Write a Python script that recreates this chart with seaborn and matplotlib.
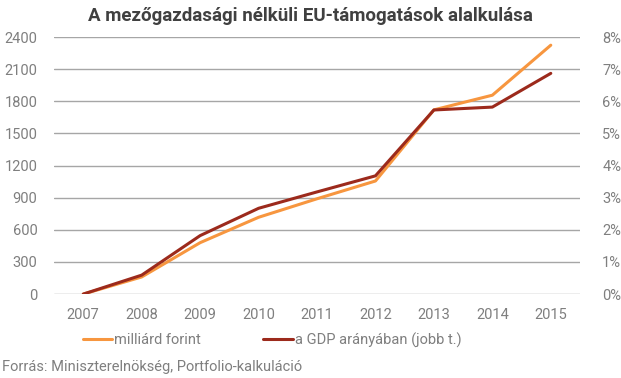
import pandas as pd
import seaborn as sns
import matplotlib.pyplot as plt
from matplotlib.lines import Line2D
from matplotlib.ticker import FuncFormatter

# data
years = ['2007', '2008', '2009', '2010', '2011', '2012', '2013', '2014', '2015']
billion_huf = [0, 160, 480, 717, 890, 1056, 1720, 1857, 2324]
gdp_share = [0.0, 0.59, 1.82, 2.67, 3.18, 3.68, 5.73, 5.82, 6.87]

df = pd.DataFrame({'year': years, 'huf': billion_huf, 'gdp': gdp_share})
df['pos'] = range(len(years))

orange = '#F7963F'
darkred = '#9C2A1C'
grid_c = '#A6A6A6'
text_c = '#7F7F7F'

sns.set_style('white')
plt.rcParams['font.family'] = ['Roboto', 'DejaVu Sans']

fig = plt.figure(figsize=(6.21, 3.78), dpi=100)
ax = fig.add_axes([0.087, 0.222, 0.847, 0.68])
ax2 = ax.twinx()

sns.lineplot(data=df, x='pos', y='huf', ax=ax, color=orange, linewidth=2.2)
sns.lineplot(data=df, x='pos', y='gdp', ax=ax2, color=darkred, linewidth=2.2)

ax.set_xlim(-0.5, len(years) - 0.5)
ax.set_ylim(0, 2400)
ax2.set_ylim(0, 8)
ax.set_yticks(range(0, 2401, 300))
ax2.set_yticks(range(0, 9))
ax2.yaxis.set_major_formatter(FuncFormatter(lambda v, p: f'{int(v)}%'))
ax.set_xticks(df['pos'])
ax.set_xticklabels(years)

ax.grid(axis='y', color=grid_c, linewidth=1)
ax.set_axisbelow(True)
ax2.grid(False)
for a in (ax, ax2):
    for s in a.spines.values():
        s.set_visible(False)
    a.set_xlabel('')
    a.set_ylabel('')
    a.tick_params(length=0, labelsize=10.5, labelcolor=text_c)
ax.tick_params(axis='y', pad=12)
ax2.tick_params(axis='y', pad=16)
ax.tick_params(axis='x', pad=10)
ax2.set_zorder(ax.get_zorder() + 1)

fig.text(0.5, 0.958, 'A mezőgazdasági nélküli EU-támogatások alalkulása',
         ha='center', va='center', fontsize=13.5, fontweight='bold', color='#404040')

handles = [Line2D([], [], color=orange, linewidth=2.2),
           Line2D([], [], color=darkred, linewidth=2.2)]
fig.legend(handles, ['milliárd forint', 'a GDP arányában (jobb t.)'],
           loc='center left', bbox_to_anchor=(0.112, 0.1), ncol=2, frameon=False,
           fontsize=10.5, labelcolor=text_c, handlelength=2.0, handletextpad=0.15,
           columnspacing=4.3)

fig.text(0.003, 0.03, 'Forrás: Miniszterelnökség, Portfolio-kalkuláció',
         ha='left', va='center', fontsize=10.5, color=text_c)

fig.savefig('out.png', dpi=100)
